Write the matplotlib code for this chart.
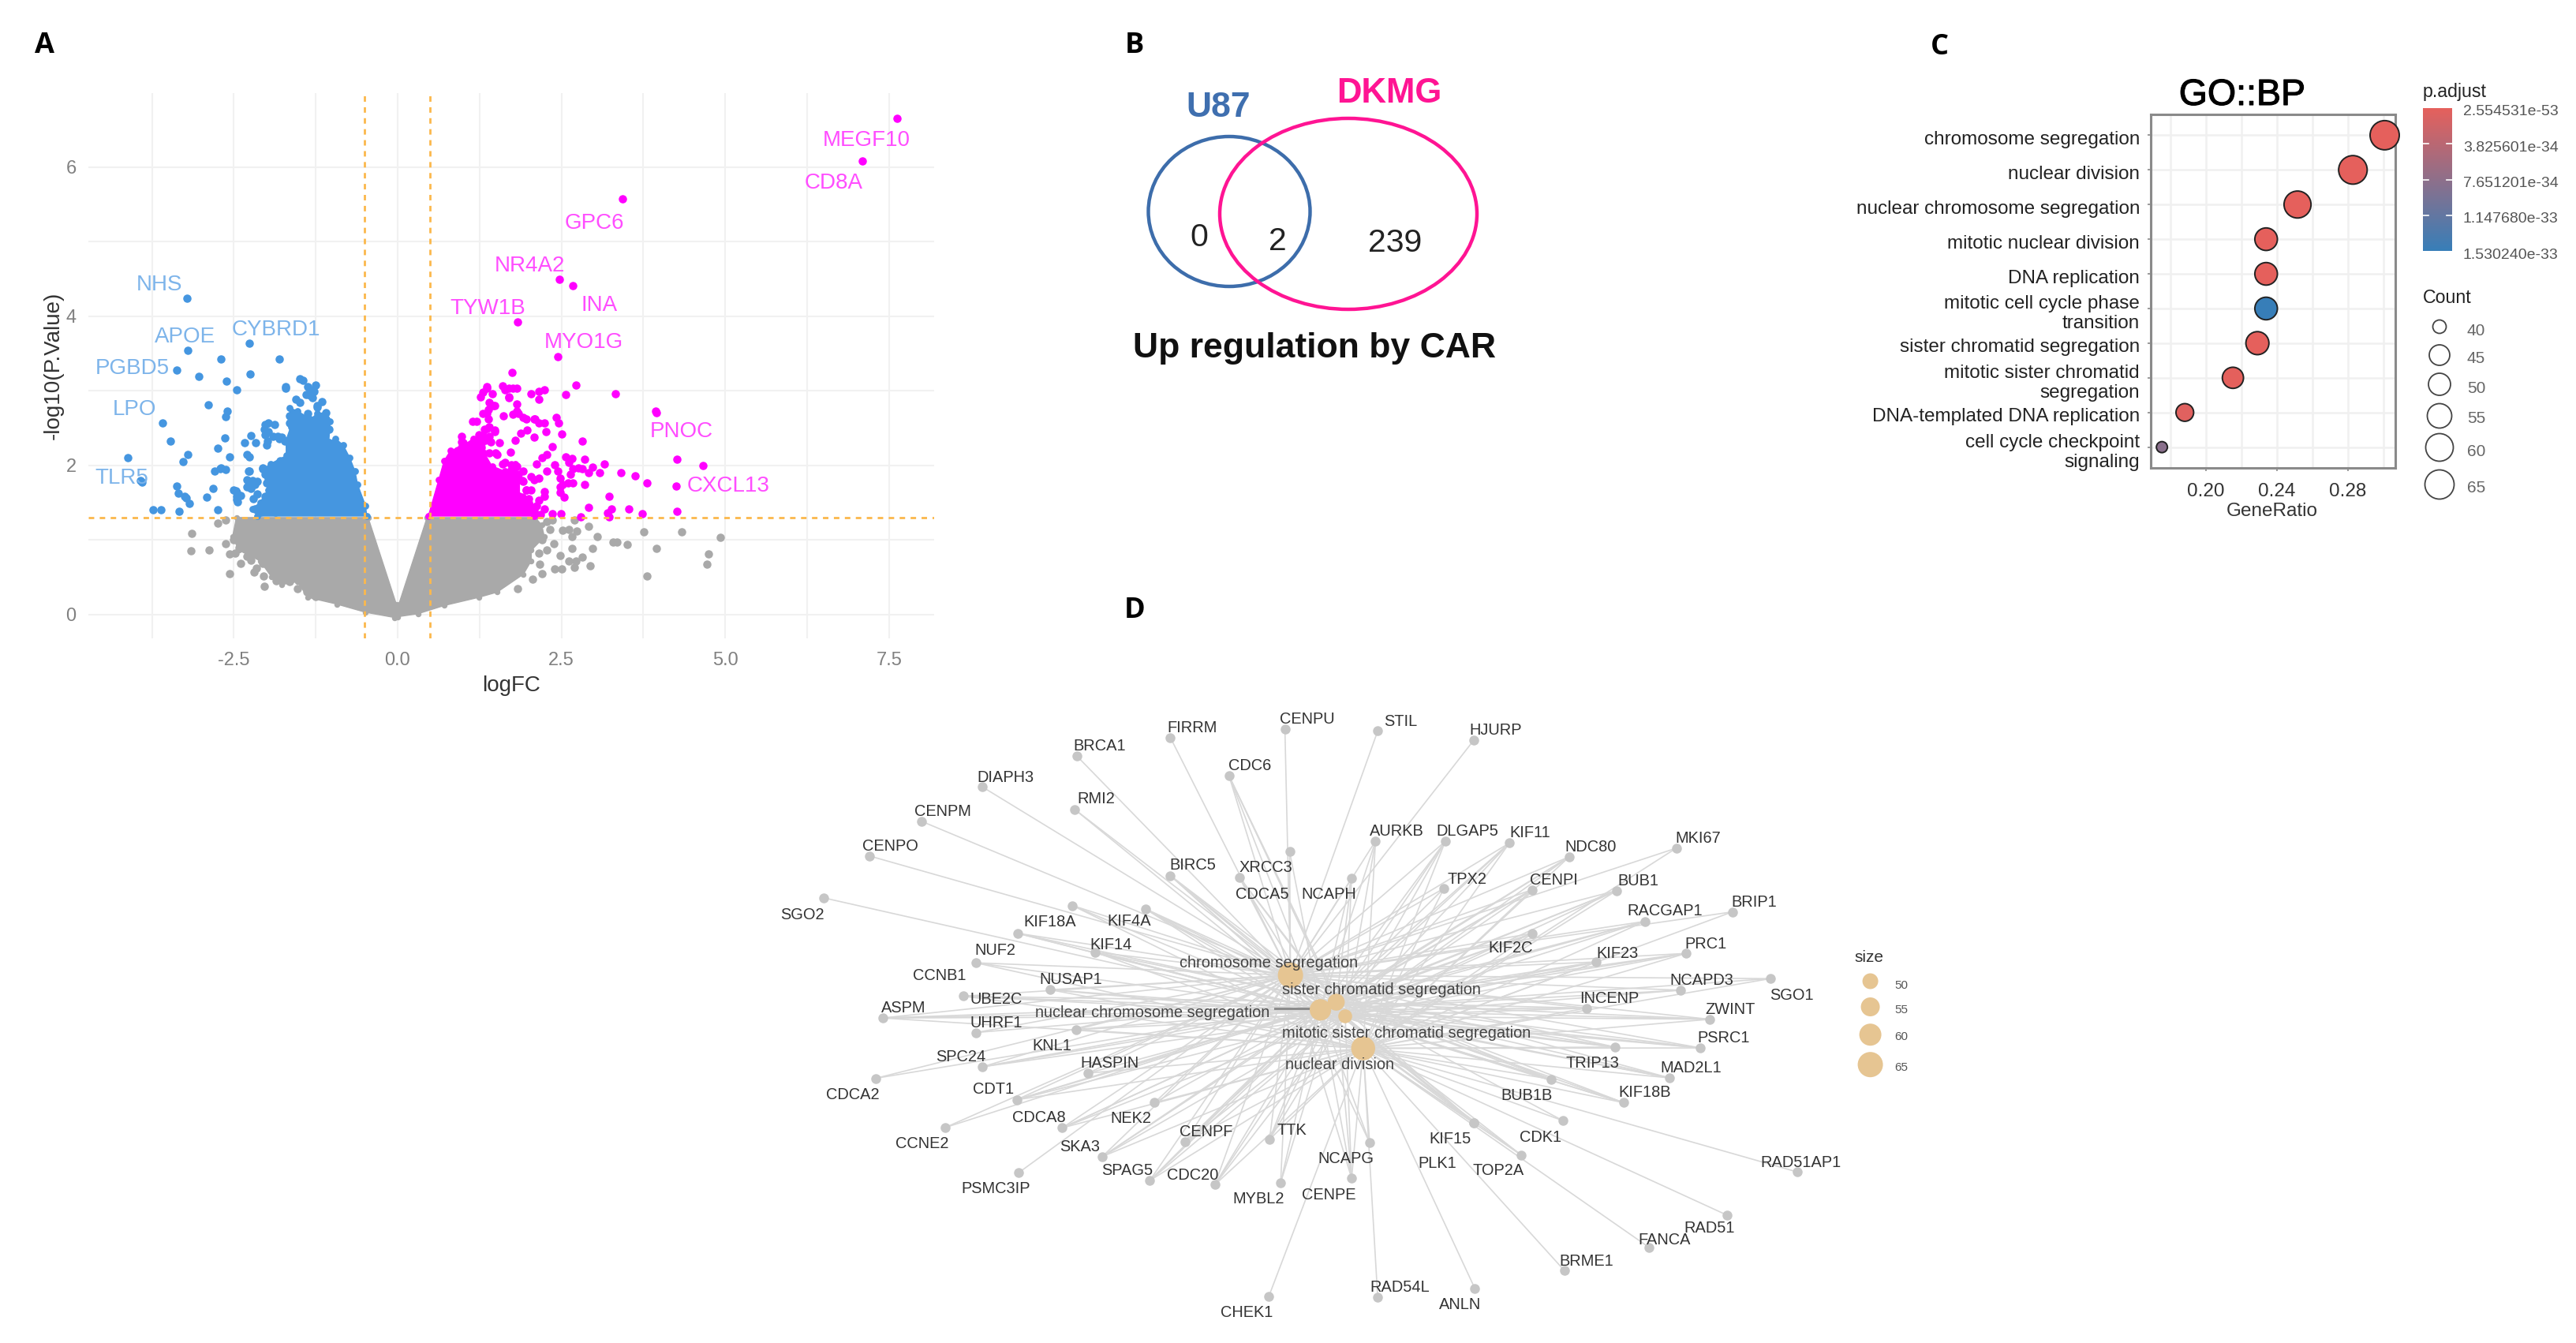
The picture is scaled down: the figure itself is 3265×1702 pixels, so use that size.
import numpy as np
import matplotlib
matplotlib.use("Agg")
import matplotlib.pyplot as plt
import matplotlib.patheffects as pe
from matplotlib.patches import Ellipse
from matplotlib.colors import LinearSegmentedColormap, Normalize
from matplotlib.cm import ScalarMappable
from matplotlib.transforms import ScaledTranslation

plt.rcParams['font.family'] = ['Liberation Sans', 'DejaVu Sans']

# ---------- Panel A data (logFC, -log10 P) ----------
up_x = [7.63,7.10,3.43,2.47,2.67,1.83,2.44,1.75,2.72,3.33,2.56,3.94,3.95,4.27,4.66,4.25,4.27,3.81,3.63,3.41,3.16,3.08,2.98,2.92,2.86,2.82,2.86,3.23,2.92,3.27,3.20,3.23,3.53,3.73,2.80,2.49,2.36,
        2.68,2.76,2.82,2.64,2.66,2.56,2.62,2.68,2.60,2.52,2.48,2.44,2.40,2.28,2.36,2.28,2.20,2.12,2.08,2.16,2.04,2.24,2.24,2.16,2.12,2.24,2.18,2.48,2.48,2.54,
        2.50,2.42,2.46,2.26,2.08,1.98,1.88,1.80,2.24,2.16,2.10,2.24,2.16,2.04,2.16,1.82,1.70,1.60,1.70,1.82,1.82,1.76,1.62,1.92,
        1.36,1.26,1.44,1.46,1.38,1.38,1.14,1.20,1.38,1.48,1.40,1.42,0.98,1.72,1.50,1.64,1.92,1.92,1.96,1.30,1.00,1.55,2.00,
        0.83,0.92,1.08,0.98,1.16,1.24,1.32,1.40,1.48,1.34,1.28,1.40,1.52,1.60,1.74,1.82,1.72,1.84,1.80,1.96,1.90,2.00,2.08,1.90,2.04,
        1.40,1.48,1.36,1.36,1.30,1.64,1.76,1.70,1.84,1.96,2.08]
up_y = [6.65,6.08,5.57,4.49,4.41,3.92,3.46,3.25,3.08,2.96,2.95,2.73,2.71,2.08,2.00,1.72,1.38,1.76,1.86,1.90,2.02,1.90,1.98,1.90,2.08,2.33,1.74,1.58,1.44,1.41,1.36,1.31,1.41,1.35,1.31,1.35,1.35,
        1.95,1.97,1.95,1.88,2.09,2.11,2.04,1.76,1.76,1.74,1.83,1.92,2.01,1.92,2.25,2.15,2.10,2.02,1.81,1.83,1.85,1.65,1.58,1.53,1.46,1.42,1.34,1.71,1.64,1.57,
        2.42,2.64,2.57,2.45,2.38,2.47,2.43,2.34,2.57,2.57,2.62,3.01,2.99,2.96,2.89,3.03,3.03,3.06,2.92,2.82,2.73,2.68,2.66,2.64,
        3.03,2.92,2.96,2.80,2.75,2.62,2.59,2.59,2.50,2.45,2.39,2.31,2.39,2.18,2.17,2.04,1.92,1.78,1.67,2.70,2.30,2.30,1.55,
        2.17,2.20,2.20,2.31,2.31,2.41,2.48,2.52,2.47,2.34,2.24,2.17,2.15,2.02,2.01,1.99,1.92,1.88,1.74,1.67,1.57,1.50,1.39,1.80,1.67,
        2.84,2.80,2.69,3.05,2.98,3.01,3.03,2.91,2.69,2.62,2.62]
up_core_x = [0.47,0.63,0.71,0.81,0.96,1.16,1.36,1.32,1.44,1.64,1.80,1.86,1.86,2.04,2.08]
up_core_y = [1.32,1.81,2.06,2.20,2.24,2.36,2.48,2.17,1.99,1.92,2.02,1.81,1.60,1.46,1.32]

down_x = [-3.22,-3.20,-3.375,-3.03,-2.70,-2.26,-1.81,-2.25,-2.61,-2.45,-2.89,-2.60,-2.62,-3.59,-3.47,-2.64,-2.75,-4.12,-3.20,-3.28,-2.57,-2.70,-2.79,-3.93,-3.90,
          -3.37,-3.35,-2.82,-2.91,-3.25,-3.18,-3.33,-3.73,-3.61,-2.75,-2.47,-2.45,-1.49,-1.71,-2.71,-2.62,-2.26,-2.30,-2.26,-2.14,-2.14,-2.30,-3.23,-2.46,-2.44,
          -2.34,-2.24,-2.17,-2.30,-2.26,-2.02,-1.88,-2.02,-1.90,-1.77,-2.00,-1.98,-2.06,-1.33,-1.25,-1.30,-1.23,-1.55,-1.49,-1.71,-1.45,-1.09,-2.40,-2.20,-1.40,-1.15,
          -1.92,-1.79,-1.87,-2.06,-2.02,-1.94,-2.00,-1.87,-1.82,-1.77,-1.95,-2.02,-2.06,-2.18,-2.10,-1.98,-1.86,-2.28,-2.22,-2.18,-2.24,-2.50,-2.46,
          -1.98,-1.83,-1.72,-1.65,-1.99,-2.04,-1.98,-1.81,-1.65,-1.65,-1.57,-1.37,-1.23,-1.33,-1.27,-1.37,-1.09,-1.05]
down_y = [4.24,3.54,3.28,3.19,3.42,3.64,3.42,3.22,3.13,3.01,2.81,2.73,2.65,2.57,2.33,2.37,2.23,2.10,2.14,2.05,2.11,1.96,1.92,1.80,1.77,
          1.72,1.63,1.69,1.57,1.58,1.49,1.38,1.40,1.40,1.40,1.66,1.54,3.16,3.05,1.95,1.94,1.92,1.81,1.71,1.78,1.62,1.71,1.56,1.64,1.51,
          2.30,2.40,2.30,2.15,2.11,2.55,2.55,2.41,2.39,2.38,2.27,1.85,1.95,3.01,3.08,2.91,2.80,2.89,2.84,3.03,3.14,2.71,1.60,1.55,2.95,2.85,
          1.99,2.06,1.94,1.97,1.88,1.80,1.76,1.69,1.74,1.64,1.60,1.58,1.50,1.42,1.37,1.42,1.37,1.92,1.80,1.74,1.69,1.67,1.58,
          2.45,2.39,2.32,2.27,2.32,2.48,2.57,2.36,2.57,2.66,2.69,2.69,2.78,2.94,2.99,3.05,2.62,2.48]
down_core_x = [-0.47,-0.49,-0.61,-0.65,-0.73,-0.83,-0.95,-1.05,-1.03,-1.09,-1.23,-1.33,-1.53,-1.65,-1.63,-1.70,-1.70,-1.94,-2.06,-1.98,-2.10,-2.22,-2.14]
down_core_y = [1.32,1.46,1.74,1.92,2.10,2.27,2.36,2.31,2.59,2.71,2.69,2.62,2.73,2.77,2.52,2.34,2.13,2.02,1.94,1.67,1.50,1.42,1.32]

ns_x = [-3.14,-3.16,-2.88,-2.63,-2.75,-2.63,-2.56,-2.40,-2.24,-2.19,-2.04,-2.56,-2.48,-1.53,-2.30,-2.15,-2.05,-1.85,
        -2.46,-2.38,-2.30,-2.50,-2.42,-2.26,-2.10,-1.98,-2.06,-1.89,-1.73,-1.65,-1.39,-1.25,
        2.70,2.92,2.52,2.62,2.74,2.66,3.05,3.76,4.34,4.93,3.29,3.35,3.51,3.95,4.75,4.72,3.81,2.66,2.98,2.94,2.82,2.72,2.70,2.62,2.48,2.38,2.28,2.16,2.40,2.50,2.17,2.21,2.06,1.83,2.32,2.36,2.28,2.20]
ns_y = [1.09,0.85,0.87,0.95,1.22,1.27,0.55,0.69,0.73,0.57,0.38,0.81,0.82,0.35,0.78,0.62,0.52,0.45,
        1.07,1.12,1.04,1.00,0.90,0.93,0.86,1.00,0.68,0.65,0.47,0.44,0.30,0.24,
        1.27,1.18,1.13,1.14,1.12,1.04,1.04,1.11,1.11,1.03,0.97,0.97,0.94,0.89,0.81,0.67,0.52,0.89,0.89,0.65,0.77,0.72,0.63,0.72,0.79,0.95,0.86,0.82,0.61,0.61,0.67,0.55,0.47,0.35,1.14,1.27,1.25,1.00]
ns_core_x = [-0.45,-0.02,0.0,0.02,0.45,0.47,2.10,2.20,2.24,2.04,2.04,1.92,1.52,1.24,0.71,0.31,0.0,-0.05,-0.49,-0.93,-1.37,-1.53,-1.77,-1.93,-2.10,-2.42,-2.52,-2.46]
ns_core_y = [1.30,0.14,0.12,0.14,1.30,1.30,1.30,1.20,1.04,0.86,0.72,0.54,0.30,0.23,0.12,0.01,-0.03,-0.04,0.03,0.14,0.23,0.44,0.40,0.51,0.72,0.86,1.04,1.30]

label_genes_up = ["MEGF10","CD8A","GPC6","NR4A2","INA","TYW1B","MYO1G","PNOC","CXCL13"]
label_up_x = [7.16,6.66,3.01,2.02,3.08,1.38,2.84,4.34,5.05]
label_up_y = [6.39,5.82,5.28,4.71,4.18,4.13,3.68,2.48,1.75]
label_genes_down = ["NHS","APOE","CYBRD1","PGBD5","LPO","TLR5"]
label_down_x = [-3.64,-3.25,-1.86,-4.05,-4.01,-4.21]
label_down_y = [4.45,3.75,3.85,3.33,2.78,1.86]

# ---------- Panel B data ----------
venn_counts = ["0", "2", "239"]

# ---------- Panel C data ----------
go_terms = ["chromosome segregation","nuclear division","nuclear chromosome segregation","mitotic nuclear division",
            "DNA replication","mitotic cell cycle phase\ntransition","sister chromatid segregation",
            "mitotic sister chromatid\nsegregation","DNA-templated DNA replication","cell cycle checkpoint\nsignaling"]
gene_ratio = [0.3007,0.2828,0.2516,0.2339,0.2339,0.2339,0.2290,0.2152,0.1881,0.1752]
go_count = [65,63,59,51,51,51,52,47,43,36]
go_padj = [3e-53,1e-45,1e-40,1e-36,2e-36,1.53024e-33,5e-36,1e-35,5e-35,8e-34]
padj_ticks = [2.554531e-53,3.825601e-34,7.651201e-34,1.147680e-33,1.530240e-33]
padj_labels = ["2.554531e-53","3.825601e-34","7.651201e-34","1.147680e-33","1.530240e-33"]
count_legend = [40,45,50,55,60,65]

# ---------- Panel D data (network layout units) ----------
term_names = ["chromosome segregation","sister chromatid segregation","nuclear chromosome segregation",
              "mitotic sister chromatid segregation","nuclear division"]
term_u = [1265,1372,1335,1393,1435]
term_v = [712,775,793,808,883]
term_count = [65,52,59,47,63]
term_label_u = [1215,1477,943,1536,1380]
term_label_v = [680,743,796,845,918]

gene_names = ["SGO2","CENPO","CENPM","DIAPH3","BRCA1","RMI2","FIRRM","CENPU","CDC6","STIL",
              "BIRC5","XRCC3","CDCA5","NCAPH","AURKB","KIF18A","KIF4A","KIF14","NUF2","CCNB1",
              "UBE2C","NUSAP1","ASPM","UHRF1","KNL1","SPC24","CDCA2","HASPIN","CDT1","CDCA8",
              "NEK2","CCNE2","SKA3","CENPF","TTK","SPAG5","CDC20","PSMC3IP","MYBL2","NCAPG",
              "CENPE","CHEK1","RAD54L","HJURP","DLGAP5","KIF11","TPX2","NDC80","CENPI","MKI67",
              "BUB1","RACGAP1","BRIP1","KIF2C","KIF23","PRC1","NCAPD3","SGO1","INCENP","ZWINT",
              "PSRC1","TRIP13","MAD2L1","BUB1B","KIF18B","CDK1","KIF15","PLK1","TOP2A","BRME1",
              "ANLN","FANCA","RAD51","RAD51AP1"]
gene_u = [173,280,402,545,766,760,984,1252,1121,1469,
          984,1263,1146,1408,1464,755,926,808,627,529,
          500,703,311,530,764,545,295,792,625,731,
          947,458,825,1019,1216,936,1088,629,1242,1450,
          1408,1214,1469,1694,1627,1777,1624,1917,1830,2167,
          2028,2094,2298,1831,1980,2190,2177,2387,1957,2246,
          2224,2024,2151,1874,2044,1902,1694,1694,1804,1906,
          1696,2103,2286,2450]
gene_v = [531,433,352,272,200,324,156,136,245,141,
          479,423,484,485,398,549,557,658,614,683,
          761,746,812,846,839,926,953,941,1003,1069,
          1010,1068,1136,1102,1096,1192,1202,1174,1197,1103,
          1187,1464,1465,162,399,403,509,435,512,415,
          514,586,564,614,681,661,747,720,789,815,
          882,880,952,955,1010,1052,1057,1057,1132,1403,
          1444,1348,1273,1172]
gene_label_u = [123,330,451,598,818,811,1036,1305,1170,1522,
                1036,1208,1198,1355,1514,703,887,846,574,445,
                577,752,361,577,708,494,241,843,570,677,
                891,403,773,1068,1268,884,1037,576,1190,1395,
                1355,1162,1520,1745,1679,1825,1678,1967,1880,2219,
                2079,2141,2350,1779,2029,2237,2226,2438,2011,2294,
                2277,1972,2201,1818,2094,1850,1639,1608,1751,1958,
                1662,2139,2244,2459]
gene_label_v = [567,407,325,246,173,297,130,110,218,115,
                452,457,519,519,372,584,582,638,651,710,
                765,719,785,821,874,899,988,915,976,1042,
                1043,1103,1109,1075,1071,1165,1176,1208,1231,1138,
                1222,1498,1438,135,372,376,484,409,486,388,
                488,559,537,645,658,635,721,755,762,788,
                855,915,925,990,983,1087,1092,1148,1166,1377,
                1479,1328,1300,1146]
gene_terms = ["2","0","0","0","0","02","0","0","0123","0",
              "01234","02","0123","0123","0234","024","01234","01234","0123","024",
              "01234","0234","01234","01","0234","0123","01","024","01234","01234",
              "024","01","01234","01234","01234","01234","01234","0","012","024",
              "01234","4","4","0","01234","01234","024","01234","01234","04",
              "01234","01234","04","01234","01234","01234","023","024","01234","01234",
              "01234","01234","01234","01234","01234","04","01234","04","024","4",
              "4","4","4","4"]
size_legend = [50,55,60,65]

# ---------- Helpers ----------
W, H = 3266, 1702
DPI = 100
fig = plt.figure(figsize=(W/DPI, H/DPI), dpi=DPI, facecolor='white')

def rect(x0, y0, x1, y1):
    return [x0/W, 1-y1/H, (x1-x0)/W, (y1-y0)/H]

def T(px, py, s, **kw):
    kw.setdefault('ha', 'center'); kw.setdefault('va', 'center')
    return fig.text(px/W, 1-(py+3)/H, s, **kw)

def area(d_px):
    return (np.asarray(d_px, float)*72/DPI)**2

def down_px(n):
    return ScaledTranslation(0, -n/DPI, fig.dpi_scale_trans)

for (px, py, s) in [(56,55,"A"),(1438,55,"B"),(2458,57,"C"),(1438,771,"D")]:
    T(px, py, s, fontsize=26, fontweight='bold', family='Open Sans', color='black')

# ---------- Panel A ----------
ax = fig.add_axes(rect(112,118,1184,809))
ax.set_xlim(-4.72, 8.19); ax.set_ylim(-0.32, 6.99)
for s in ax.spines.values(): s.set_visible(False)
ax.set_xticks([-2.5,0,2.5,5,7.5]); ax.set_xticklabels(["-2.5","0.0","2.5","5.0","7.5"])
ax.set_yticks([0,2,4,6])
ax.set_xticks([-3.75,-1.25,1.25,3.75,6.25], minor=True)
ax.set_yticks([1,3,5], minor=True)
ax.grid(True, which='both', color='#f1f1f1', lw=1.5)
ax.set_axisbelow(True)
ax.tick_params(which='both', length=0)
ax.tick_params(axis='both', labelsize=17, labelcolor='#808080')
ax.tick_params(axis='x', pad=12); ax.tick_params(axis='y', pad=11)
ax.set_xlabel("logFC", fontsize=20, color='#333333', va='center')
ax.xaxis.set_label_coords(0.5, (809-869)/691)
ax.set_ylabel("-log10(P.Value)", fontsize=20, color='#333333', va='center')
ax.yaxis.set_label_coords((68-112)/1072, 0.5)
GRAY, BLUE, MAG = '#a9a9a9', '#4596e0', '#ff00ff'
ms = area(10.5)
ax.fill(ns_core_x, ns_core_y, color=GRAY, lw=1, zorder=2)
ax.scatter(ns_x, ns_y, s=ms, color=GRAY, lw=0, zorder=2)
ax.scatter(ns_core_x, ns_core_y, s=ms*0.5, color=GRAY, lw=0, zorder=2)
ax.fill(down_core_x, down_core_y, color=BLUE, lw=1, zorder=3)
ax.scatter(down_core_x, down_core_y, s=ms*0.7, color=BLUE, lw=0, zorder=3)
ax.scatter(down_x, down_y, s=ms, color=BLUE, lw=0, zorder=3)
ax.fill(up_core_x, up_core_y, color=MAG, lw=1, zorder=3)
ax.scatter(up_core_x, up_core_y, s=ms*0.7, color=MAG, lw=0, zorder=3)
ax.scatter(up_x, up_y, s=ms, color=MAG, lw=0, zorder=3)
dash = dict(color='#fbb84c', lw=2, ls=(0,(2.5,2.5)), zorder=4)
ax.axhline(1.3, **dash); ax.axvline(-0.5, **dash); ax.axvline(0.5, **dash)
tr_a = ax.transData + down_px(3)
for n, x, y in zip(label_genes_up, label_up_x, label_up_y):
    ax.text(x, y, n, color='#ff4dff', fontsize=20, ha='center', va='center', zorder=5, transform=tr_a)
for n, x, y in zip(label_genes_down, label_down_x, label_down_y):
    ax.text(x, y, n, color='#7db4ea', fontsize=20, ha='center', va='center', zorder=5, transform=tr_a)

# ---------- Panel B ----------
axb = fig.add_axes(rect(1440,140,1890,400))
axb.set_xlim(1440,1890); axb.set_ylim(400,140); axb.axis('off')
axb.add_patch(Ellipse((1558,268),205,190,fill=False,ec='#3d6dab',lw=3.2))
axb.add_patch(Ellipse((1709,271),326,242,fill=False,ec='#ff1493',lw=3.2))
T(1544,134,"U87",fontsize=32,fontweight='bold',color='#3f6faf')
T(1761,115,"DKMG",fontsize=31.5,fontweight='bold',color='#ff1493')
for (px,py),s in zip([(1520,298),(1619,303),(1768,305)], venn_counts):
    T(px,py,s,fontsize=29.5,color='#222222')
T(1666,438,"Up regulation by CAR",fontsize=32,fontweight='bold',color='#111111')

# ---------- Panel C ----------
axc = fig.add_axes(rect(2726,145,3036,593))
axc.set_xlim(0.1689,0.3067); axc.set_ylim(0.4,10.6)
yy = np.arange(10,0,-1)
axc.set_yticks(yy); axc.set_yticklabels(go_terms, fontsize=17.5, color='#222222', linespacing=1.15, ha='right')
axc.set_xticks([0.20,0.24,0.28]); axc.set_xticklabels(["0.20","0.24","0.28"], fontsize=17.5, color='#333333')
axc.set_xticks([0.18,0.22,0.26,0.30], minor=True)
axc.grid(True, which='both', color='#f0f0f0', lw=1.8); axc.set_axisbelow(True)
axc.tick_params(which='minor', length=0)
axc.tick_params(which='major', length=3, color='#8a8a8a', width=1.2, pad=7)
axc.tick_params(axis='x', pad=11)
for lab in axc.get_yticklabels():
    lab.set_transform(lab.get_transform() + down_px(3))
for s in axc.spines.values(): s.set_color('#8a8a8a'); s.set_linewidth(2.2)
cmap = LinearSegmentedColormap.from_list('padj',['#e5605c','#377eb8'])
norm = Normalize(2.554531e-53, 1.530240e-33)
def dsize(c): return np.interp(c,[36,40,45,50,55,60,65],[14,17,26,28,31,35,37])
axc.scatter(gene_ratio, yy, s=area(dsize(go_count)), c=go_padj, cmap=cmap, norm=norm,
            edgecolors='#222222', linewidths=1.4, zorder=5, clip_on=False)
axc.set_xlabel("GeneRatio", fontsize=17.5, color='#333333', va='center')
axc.xaxis.set_label_coords((2880-2726)/310, (593-648)/448)
T(2842,118,"GO::BP",fontsize=33.5,color='black',path_effects=[pe.withStroke(linewidth=0.8,foreground='black')])
cax = fig.add_axes(rect(3071,137,3108,318))
cb = fig.colorbar(ScalarMappable(norm,cmap), cax=cax)
cax.invert_yaxis(); cb.outline.set_visible(False)
cb.set_ticks(padj_ticks); cb.set_ticklabels(padj_labels, fontsize=14, color='#555555')
cb.minorticks_off()
cax.tick_params(axis='y', length=0, pad=10)
for lab in cax.get_yticklabels():
    lab.set_transform(lab.get_transform() + down_px(3))
for t in padj_ticks[1:-1]:
    cax.plot([0,0.2],[t,t],color='white',lw=1.2,transform=cax.get_yaxis_transform())
    cax.plot([0.8,1],[t,t],color='white',lw=1.2,transform=cax.get_yaxis_transform())
T(3071,113,"p.adjust",fontsize=16.7,color='#222222',ha='left')
T(3071,375,"Count",fontsize=16.7,color='#222222',ha='left')
axl = fig.add_axes(rect(3060,395,3150,640)); axl.axis('off')
axl.set_xlim(3060,3150); axl.set_ylim(640,395)
leg_y = [414,450,487,527,567,614]
axl.scatter([3092]*6, leg_y, s=area(dsize(count_legend)), facecolors='none', edgecolors='#444444', linewidths=1.3)
for c, y in zip(count_legend, [419,454,491,530,571,617]):
    T(3127, y-2, str(c), fontsize=15, color='#666666', ha='left')

# ---------- Panel D ----------
S = 0.542
axd = fig.add_axes(rect(950,850,950+3000*S,850+1568*S))
axd.set_xlim(0,3000); axd.set_ylim(1568,0); axd.axis('off')
for u, v, ts in zip(gene_u, gene_v, gene_terms):
    for t in ts:
        i = int(t)
        axd.plot([u,term_u[i]],[v,term_v[i]],color='#d8d8d8',lw=1.2,zorder=1,solid_capstyle='round')
axd.plot([1228,1330],[790,790],color='#8c8c8c',lw=2.2,zorder=2)
axd.scatter(gene_u, gene_v, s=area(12.5), color='#c6c6c6', lw=0, zorder=3)
def tsize(c): return 20+(np.asarray(c,float)-50)*0.8
axd.scatter(term_u, term_v, s=area(tsize(term_count)), color='#e6c592', lw=0, zorder=4)
tr_d = axd.transData + down_px(2)
for n,u,v in zip(gene_names, gene_label_u, gene_label_v):
    axd.text(u,v,n,fontsize=14.4,color='#333333',ha='center',va='center',zorder=6,transform=tr_d)
for n,u,v in zip(term_names, term_label_u, term_label_v):
    axd.text(u,v,n,fontsize=14.4,color='#444444',ha='center',va='center',zorder=6,transform=tr_d)
axd.text(2618,667,"size",fontsize=15,color='#333333',ha='center',va='center',transform=tr_d)
axd.scatter([2621]*4,[726,786,851,921],s=area(tsize(size_legend)),color='#e6c592',lw=0)
for c,v in zip(size_legend,[732,790,853,925]):
    axd.text(2677,v,str(c),fontsize=11,color='#555555',ha='left',va='center',transform=tr_d)

fig.savefig("out.png", dpi=DPI, facecolor='white')
